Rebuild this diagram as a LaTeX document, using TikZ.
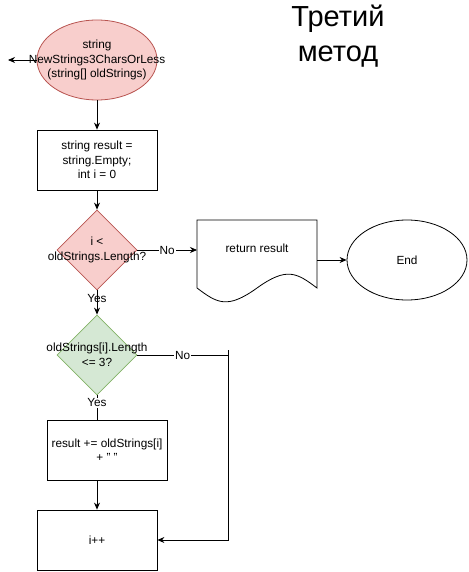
\documentclass[tikz,border=0pt]{standalone}
\usepackage{fontspec}
\setmainfont{Liberation Sans}
\usetikzlibrary{shapes.geometric,arrows.meta}
\definecolor{redfill}{HTML}{F8CECC}
\definecolor{redline}{HTML}{B85450}
\definecolor{greenfill}{HTML}{D5E8D4}
\definecolor{greenline}{HTML}{82B366}
\tikzset{
  x=1pt, y=-1pt,
  every node/.style={font=\fontsize{11.8}{14.5}\selectfont, align=center, inner sep=0pt},
  boxn/.style={draw, line width=0.8pt, minimum width=120pt, minimum height=60pt},
  ovaln/.style={ellipse, draw, line width=0.8pt, minimum width=120pt, minimum height=80pt},
  decision/.style={diamond, draw, line width=0.8pt, minimum width=80pt, minimum height=80pt, aspect=1},
  conn/.style={line width=0.8pt, -{Stealth[length=7pt,width=6pt]}},
  plain/.style={line width=0.8pt},
  lbl/.style={fill=white, inner sep=1pt},
}
\begin{document}
\begin{tikzpicture}
\useasboundingbox (0,0) rectangle (468,572);
\node[font=\fontsize{29}{35}\selectfont] (title) at (338,36) {Третий\\метод};
\node[ovaln, fill=redfill, draw=redline] (start) at (97,60) {};
\coordinate (leftend) at (8,60);
\draw[conn] (start.west) -- (leftend);
\node (starttext) at (97,60) {string\\NewStrings3CharsOrLess\\(string[] oldStrings)};
\node[boxn] (init) at (97,160) {string result =\\string.Empty;\\int i = 0};
\node[decision, fill=redfill, draw=redline, inner sep=0pt] (cond1) at (97,250) {};
\node at (97,250) {i <\\oldStrings.Length?};
\node[decision, fill=greenfill, draw=greenline, inner sep=0pt] (cond2) at (97,355) {};
\node at (97,355) {oldStrings[i].Length\\<= 3?};
\node[boxn] (add) at (107,450) {result += oldStrings[i]\\+ " "};
\node[boxn] (inc) at (97,540) {i++};
\node (ret) at (257,248) {return result};
\draw[line width=0.8pt] (197,220) -- (317,220) -- (317,288)
  .. controls (297,273) and (287,266.4) .. (257,288)
  .. controls (227,309.6) and (217,303) .. (197,288) -- cycle;
\coordinate (retL) at (197,250);
\coordinate (retR) at (317,260);
\node[ovaln] (end) at (407,260) {End};
\coordinate (corner) at (228,355);
\coordinate (cornertop) at (228,350);
\coordinate (corner2) at (228,540);
\draw[conn] (start) -- (init);
\draw[conn] (init) -- (cond1);
\draw[conn] (cond1.east) -- node[lbl]{No} (retL);
\draw[conn] (retR) -- (end.west);
\draw[conn] (cond1) -- node[pos=0.35]{Yes} (cond2);
\draw[plain] (cond2.east) -- node[lbl]{No} (corner);
\draw[conn] (cornertop) -- (corner2) -- (inc.east);
\draw[plain] (cond2.south) -- node[lbl, pos=0.3]{Yes} (cond2.south |- add.north);
\draw[conn] (cond2.south |- add.south) -- (inc.north);
\end{tikzpicture}
\end{document}
